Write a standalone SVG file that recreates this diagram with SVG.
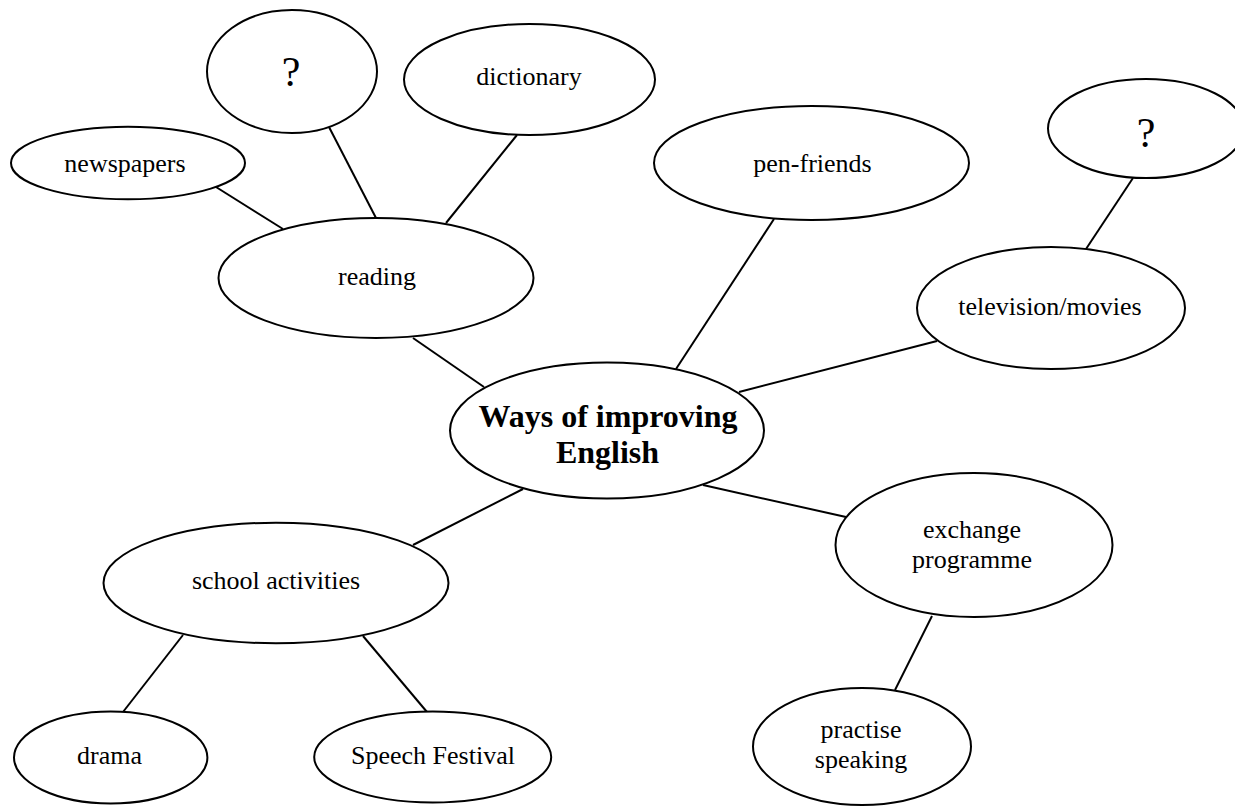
<svg xmlns="http://www.w3.org/2000/svg" width="1235" height="806" viewBox="0 0 1235 806">
<style>
.n ellipse{fill:#fff;stroke:#000;stroke-width:2}
.n text{font-family:"Liberation Serif","Times New Roman",serif;font-size:26px;fill:#000;text-anchor:middle}
.n text.q{font-size:42px}
.n text.b{font-size:32px;font-weight:bold}
#connectors line{stroke:#000;stroke-width:2}
</style>
<rect width="1235" height="806" fill="#fff"/>
<g id="connectors">
<line x1="216" y1="187" x2="283" y2="229"/>
<line x1="329" y1="127" x2="376" y2="218"/>
<line x1="517" y1="135" x2="446" y2="223"/>
<line x1="413" y1="338" x2="484" y2="387"/>
<line x1="774" y1="219" x2="676" y2="369"/>
<line x1="1133" y1="178" x2="1086" y2="249"/>
<line x1="937" y1="341" x2="739" y2="392"/>
<line x1="703" y1="485" x2="846" y2="517"/>
<line x1="523" y1="489" x2="413" y2="545"/>
<line x1="183" y1="635" x2="123" y2="712"/>
<line x1="363" y1="636" x2="427" y2="712"/>
<line x1="932" y1="616" x2="895" y2="690"/>
</g>
<g id="node-q1" class="n"><ellipse cx="292" cy="71.5" rx="85" ry="61.5"/><text class="q" x="291" y="86">?</text></g>
<g id="node-dictionary" class="n"><ellipse cx="529.5" cy="79.5" rx="125.5" ry="55.5"/><text x="529" y="85">dictionary</text></g>
<g id="node-newspapers" class="n"><ellipse cx="128" cy="163" rx="117" ry="36.3"/><text x="125" y="171.5">newspapers</text></g>
<g id="node-reading" class="n"><ellipse cx="376" cy="278" rx="157.5" ry="60"/><text x="377" y="285">reading</text></g>
<g id="node-penfriends" class="n"><ellipse cx="811.5" cy="163" rx="157.5" ry="57"/><text x="812.5" y="171.5">pen-friends</text></g>
<g id="node-q2" class="n"><ellipse cx="1146" cy="128.5" rx="98" ry="49.5"/><text class="q" x="1146" y="147">?</text></g>
<g id="node-tv" class="n"><ellipse cx="1051" cy="308" rx="134" ry="61"/><text x="1050" y="315">television/movies</text></g>
<g id="node-center" class="n"><ellipse cx="607" cy="430.5" rx="157" ry="68"/><text class="b" x="608" y="427">Ways of improving</text><text class="b" x="607.5" y="463">English</text></g>
<g id="node-exchange" class="n"><ellipse cx="974" cy="545" rx="138.5" ry="72"/><text x="972" y="538">exchange</text><text x="972" y="568">programme</text></g>
<g id="node-school" class="n"><ellipse cx="276" cy="583" rx="172.5" ry="60.3"/><text x="276" y="589">school activities</text></g>
<g id="node-drama" class="n"><ellipse cx="110.7" cy="757.5" rx="96.7" ry="46"/><text x="109.5" y="764">drama</text></g>
<g id="node-speech" class="n"><ellipse cx="432.7" cy="757" rx="118.5" ry="45.5"/><text x="433" y="764">Speech Festival</text></g>
<g id="node-practise" class="n"><ellipse cx="862" cy="746.5" rx="109" ry="58.5"/><text x="861" y="738">practise</text><text x="861" y="768">speaking</text></g>
</svg>
